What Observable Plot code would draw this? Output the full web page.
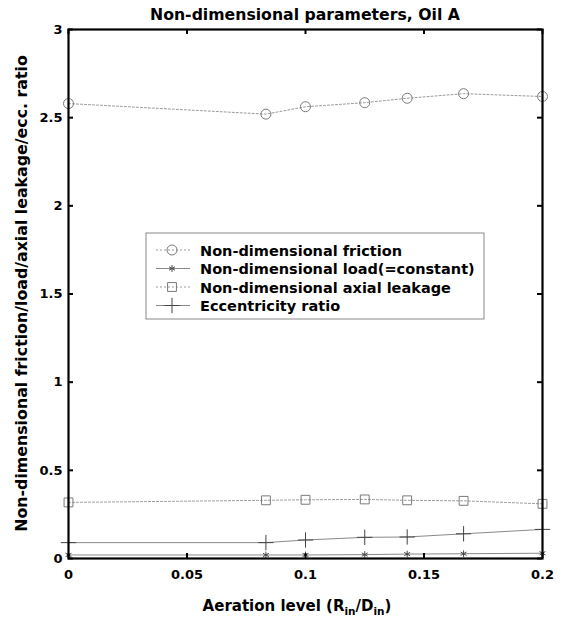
<!DOCTYPE html>
<html><head><meta charset="utf-8">
<script src="https://cdn.jsdelivr.net/npm/d3@7"></script>
<script src="https://cdn.jsdelivr.net/npm/@observablehq/plot@0.6"></script>
<style>body{margin:0;background:#fff}</style>
</head><body><div id="chart"></div>
<script>
// ---- data ----
const aeration = [0, 0.0833, 0.1, 0.125, 0.1429, 0.1667, 0.2];
const friction = [2.58, 2.52, 2.562, 2.585, 2.61, 2.636, 2.62];
const load     = [0.02, 0.02, 0.02, 0.022, 0.025, 0.027, 0.03];
const leakage  = [0.318, 0.33, 0.333, 0.335, 0.33, 0.327, 0.31];
const ecc      = [0.09, 0.09, 0.105, 0.12, 0.122, 0.14, 0.165];
const seriesNames = ["Non-dimensional friction", "Non-dimensional load(=constant)", "Non-dimensional axial leakage", "Eccentricity ratio"];
const xTicks = [0, 0.05, 0.1, 0.15, 0.2];
const yTicks = [0, 0.5, 1, 1.5, 2, 2.5, 3];
const titleText = "Non-dimensional parameters, Oil A";
const yLabel = "Non-dimensional friction/load/axial leakage/ecc. ratio";

// ---- layout ----
const W = 565, H = 621, mL = 68, mR = 23, mT = 29, mB = 63;
const fw = W - mL - mR, fh = H - mT - mB;
const font = "'DejaVu Sans', Verdana, sans-serif";

const series = [
  {name: seriesNames[0], values: friction, symbol: "circle",   r: 5,   stroke: "#9a9a9a", mstroke: "#7a7a7a", dash: "2,2"},
  {name: seriesNames[1], values: load,     symbol: "asterisk", r: 3.2, stroke: "#8a8a8a", mstroke: "#444",    dash: null},
  {name: seriesNames[2], values: leakage,  symbol: "square",   r: 5,   stroke: "#9a9a9a", mstroke: "#7a7a7a", dash: "2,2"},
  {name: seriesNames[3], values: ecc,      symbol: "plus",     r: 5,   stroke: "#8a8a8a", mstroke: "#444",    dash: null}
];

const marks = [];
for (const s of series) {
  const d = aeration.map((x, i) => ({x, y: s.values[i]}));
  marks.push(Plot.line(d, {x: "x", y: "y", stroke: s.stroke, strokeWidth: 1, strokeDasharray: s.dash}));
  marks.push(Plot.dot(d, {x: "x", y: "y", symbol: s.symbol, r: s.r, stroke: s.mstroke, fill: "none", strokeWidth: 1}));
}
// inward ticks (MATLAB style) on all four sides
marks.push(Plot.tickX(xTicks, {x: d => d, insetTop: fh - 5, stroke: "black", strokeWidth: 2}));
marks.push(Plot.tickX(xTicks, {x: d => d, insetBottom: fh - 5, stroke: "black", strokeWidth: 2}));
marks.push(Plot.tickY(yTicks, {y: d => d, insetRight: fw - 5, stroke: "black", strokeWidth: 2}));
marks.push(Plot.tickY(yTicks, {y: d => d, insetLeft: fw - 5, stroke: "black", strokeWidth: 2}));
marks.push(Plot.frame({stroke: "black", strokeWidth: 2.2}));
marks.push(Plot.axisX({ticks: xTicks, tickSize: 0, tickPadding: 11, tickFormat: d => String(d), label: null, fontSize: 13}));
marks.push(Plot.axisY({ticks: yTicks, tickSize: 0, tickPadding: 6, tickFormat: d => String(d), label: null, fontSize: 13}));

const chart = Plot.plot({
  width: W, height: H,
  marginLeft: mL, marginRight: mR, marginTop: mT, marginBottom: mB,
  x: {domain: [0, 0.2]},
  y: {domain: [0, 3]},
  style: {fontFamily: font, fontWeight: "bold", fontSize: "13px", color: "black", background: "white"},
  marks
});
document.getElementById("chart").appendChild(chart);

const svg = d3.select(chart);
// title
svg.append("text").attr("x", mL + fw / 2).attr("y", 20).attr("text-anchor", "middle")
  .attr("font-size", 15.7).attr("font-weight", "bold").attr("fill", "black").text(titleText);
// y label
svg.append("text").attr("transform", `translate(${27},${mT + fh / 2}) rotate(-90)`).attr("text-anchor", "middle")
  .attr("font-size", 15.8).attr("font-weight", "bold").attr("fill", "black").text(yLabel);
// x label with subscripts
const xl = svg.append("text").attr("x", mL + fw / 2 - 8).attr("y", 611).attr("text-anchor", "middle")
  .attr("font-size", 15).attr("font-weight", "bold").attr("fill", "black");
xl.append("tspan").text("Aeration level (R");
xl.append("tspan").attr("dy", 4).attr("font-size", 10.5).text("in");
xl.append("tspan").attr("dy", -4).text("/D");
xl.append("tspan").attr("dy", 4).attr("font-size", 10.5).text("in");
xl.append("tspan").attr("dy", -4).text(")");

// legend
const lg = svg.append("g");
const lx = 146, ly = 233, lw = 338, lh = 86;
lg.append("rect").attr("x", lx).attr("y", ly).attr("width", lw).attr("height", lh)
  .attr("fill", "white").attr("stroke", "#888").attr("stroke-width", 1);
series.forEach((s, i) => {
  const yy = ly + 17 + i * 18.5;
  lg.append("line").attr("x1", lx + 10).attr("x2", lx + 44).attr("y1", yy).attr("y2", yy)
    .attr("stroke", s.stroke).attr("stroke-width", 1).attr("stroke-dasharray", s.dash);
  const sym = {circle: d3.symbolCircle, asterisk: d3.symbolAsterisk, square: d3.symbolSquare, plus: d3.symbolPlus}[s.symbol];
  lg.append("path").attr("transform", `translate(${lx + 26},${yy})`)
    .attr("d", d3.symbol(sym, Math.PI * s.r * s.r)())
    .attr("fill", "none").attr("stroke", s.mstroke).attr("stroke-width", 1);
  lg.append("text").attr("x", lx + 54).attr("y", yy + 5.5).attr("text-anchor", "start").attr("font-size", 14.5)
    .attr("font-weight", "bold").attr("fill", "black").text(s.name);
});
</script></body></html>
